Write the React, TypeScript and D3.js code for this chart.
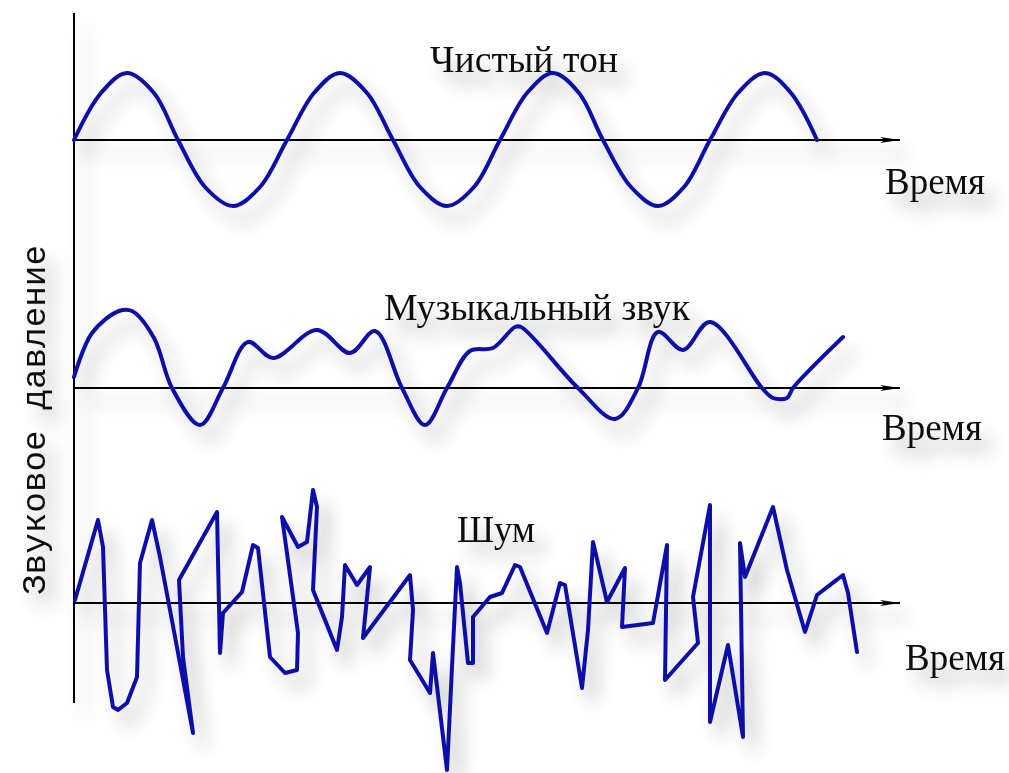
import React from "react";
import * as d3 from "d3";

// time runs 0..826 along each axis, amplitude is signed pressure
const pureTone: [number, number][] = [
  [0, 0], [27, 47], [53, 67], [80, 47], [104, 0], [131, -47], [159, -66], [186, -47],
  [213, 0], [240, 47], [266, 67], [293, 47], [319, 0], [346, -47], [373, -66], [400, -47],
  [426, 0], [453, 47], [479, 67], [505, 47], [529, 0], [557, -47], [584, -66], [610, -47],
  [636, 0], [664, 47], [691, 67], [717, 47], [743, 0],
];

const musicalSound: [number, number][] = [
  [0, 11], [18, 55], [45, 77], [58, 77], [80, 50], [98, 0], [126, -37], [149, 0],
  [174, 46], [199, 30], [243, 58], [276, 35], [301, 57], [328, 0], [351, -37], [373, 0],
  [396, 37], [419, 40], [441, 61], [447, 61], [504, 0], [541, -31], [564, 0], [584, 56],
  [609, 38], [636, 66], [688, 0], [699, -10], [713, -10], [719, 0], [769, 51],
];

const noise: [number, number][] = [
  [1, 3], [24, 83], [29, 56], [33, -67], [39, -104], [44, -107], [53, -100], [63, -74],
  [66, 40], [78, 83], [86, 46], [96, -7], [119, -130], [109, -54], [105, 23], [143, 91],
  [146, -50], [149, -10], [168, 11], [179, 58], [184, 55], [196, -54], [211, -70], [223, -67],
  [224, -30], [208, 86], [224, 56], [233, 61], [239, 113], [243, 96], [239, 13], [263, -47],
  [268, -14], [271, 38], [283, 18], [296, 36], [289, -35], [336, 28], [339, -7], [336, -57],
  [356, -90], [359, -50], [373, -167], [378, -64], [383, 36], [386, 20], [394, -60], [399, -60],
  [399, -14], [416, 6], [428, 10], [441, 38], [446, 36], [473, -30], [486, 20], [491, 18],
  [508, -85], [514, -27], [519, 61], [533, 1], [551, 35], [548, -24], [579, -20], [593, 58],
  [591, -77], [624, -40], [619, 6], [636, 98], [636, -119], [654, -42], [669, -134], [666, 60],
  [671, 26], [699, 96], [713, 33], [731, -29], [743, 8], [769, 28], [774, 10], [783, -49],
];

const titles = ["Чистый тон", "Музыкальный звук", "Шум"];
const axisLabel = "Время";
const yLabel = "Звуковое давление";

const W = 1009;
const H = 773;
const x0 = 74;
const x1 = 900;

const panels = [
  { data: pureTone, axisY: 140, curve: d3.curveCatmullRom, title: { x: 524, y: 72, w: 188 }, time: { x: 885, y: 194 } },
  { data: musicalSound, axisY: 388, curve: d3.curveCatmullRom, title: { x: 537, y: 320, w: 306 }, time: { x: 882, y: 440 } },
  { data: noise, axisY: 603, curve: d3.curveLinear, title: { x: 496, y: 542, w: 78 }, time: { x: 905, y: 670 } },
];

const serif = "'Liberation Serif', 'Times New Roman', serif";

export default function App() {
  const xScale = d3.scaleLinear().domain([0, 826]).range([x0, x1]);

  return (
    <svg width={W} height={H} style={{ position: "absolute", left: 0, top: 0, background: "#fff" }}>
      <defs>
        <filter id="shade" x="-10%" y="-10%" width="130%" height="140%">
          <feGaussianBlur in="SourceAlpha" stdDeviation="9" result="blur" />
          <feOffset in="blur" dx="10" dy="14" result="off" />
          <feComponentTransfer in="off" result="soft">
            <feFuncA type="linear" slope="0.3" />
          </feComponentTransfer>
          <feMerge>
            <feMergeNode in="soft" />
            <feMergeNode in="SourceGraphic" />
          </feMerge>
        </filter>
        <marker id="arrow" viewBox="0 0 20 10" refX="20" refY="5" markerWidth="20" markerHeight="10" markerUnits="userSpaceOnUse" orient="auto">
          <path d="M0,2 L20,5 L0,8 L5,5 Z" fill="#000" />
        </marker>
      </defs>
      <g filter="url(#shade)">
        {/* vertical pressure axis */}
        <line x1={x0} x2={x0} y1={13} y2={703} stroke="#000" strokeWidth={2} />
        <text
          transform={`translate(45,420) rotate(-90)`}
          textAnchor="middle"
          fontFamily="'Liberation Mono', 'Courier New', monospace"
          fontSize={34}
          textLength={350}
          lengthAdjust="spacingAndGlyphs"
          fill="#111"
        >
          {yLabel}
        </text>
        {panels.map((p, i) => {
          const yScale = d3.scaleLinear().domain([-170, 170]).range([p.axisY + 170, p.axisY - 170]);
          const line = d3
            .line<[number, number]>()
            .x((d) => xScale(d[0]))
            .y((d) => yScale(d[1]))
            .curve(p.curve);
          return (
            <g key={i}>
              <line x1={x0} x2={x1} y1={yScale(0)} y2={yScale(0)} stroke="#000" strokeWidth={2} markerEnd="url(#arrow)" />
              <path d={line(p.data) || ""} fill="none" stroke="#1010aa" strokeWidth={4} strokeLinejoin="round" strokeLinecap="round" />
              <text x={p.title.x} y={p.title.y} textAnchor="middle" fontFamily={serif} fontSize={37} textLength={p.title.w} lengthAdjust="spacingAndGlyphs" fill="#111">
                {titles[i]}
              </text>
              <text x={p.time.x} y={p.time.y} fontFamily={serif} fontSize={37} textLength={100} lengthAdjust="spacingAndGlyphs" fill="#111">
                {axisLabel}
              </text>
            </g>
          );
        })}
      </g>
    </svg>
  );
}
